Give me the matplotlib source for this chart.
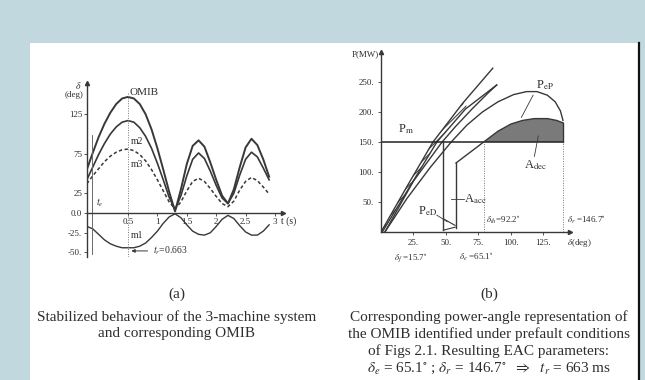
import matplotlib
matplotlib.use('Agg')
import matplotlib.pyplot as plt
from matplotlib.patches import Rectangle, Polygon
from matplotlib.lines import Line2D

plt.rcParams['font.family'] = ['Liberation Serif', 'DejaVu Serif']
plt.rcParams['mathtext.fontset'] = 'stix'
plt.rcParams['hatch.linewidth'] = 0.8

W, H = 645, 380
BG = '#c1d9de'
INK = '#383838'
TXT = '#2e2e2e'

# ---------------- data: panel (a) ----------------
time_s = [-0.2, -0.1, 0.0, 0.1, 0.2, 0.3, 0.4, 0.5, 0.6, 0.7, 0.8, 0.9, 1.0,
          1.1, 1.2, 1.3, 1.4, 1.5, 1.6, 1.7, 1.8, 1.9, 2.0, 2.1, 2.2, 2.3,
          2.4, 2.5, 2.6, 2.7, 2.8, 2.9]
delta_omib = [55, 76, 96, 113, 127, 138, 145, 147, 145, 138, 125, 106, 82, 55, 27, 2,
              30, 62, 85, 92, 84, 64, 42, 22, 12, 30, 58, 83, 94, 86, 68, 46]
delta_m2 = [42, 58, 74, 88, 100, 109, 115, 117, 115, 108, 97, 82, 63, 42, 20, 4,
            22, 47, 68, 76, 69, 53, 35, 19, 12, 25, 48, 68, 77, 71, 57, 42]
delta_m3 = [37, 47, 56, 65, 72, 77, 80, 81, 79, 74, 66, 55, 42, 28, 14, 5,
            14, 28, 40, 44, 40, 31, 21, 12, 8, 15, 29, 40, 45, 41, 33, 24]
delta_m1 = [-17, -20, -27, -34, -39, -42, -44, -44, -44, -42, -38, -31, -23, -13, -5, -1,
            -6, -15, -23, -27, -28, -25, -17, -8, -3, -7, -16, -24, -28, -28, -23, -15]
t_e = -0.11
t_mark = 0.5
a_yticks = [125, 75, 25, 0, -25, -50]
a_yticklabels = ['125', '75', '25', '0.0', '-25.', '-50.']
a_xticks = [0.5, 1, 1.5, 2, 2.5, 3]
a_xticklabels = ['0.5', '1', '1.5', '2', '2.5', '3']

# ---------------- data: panel (b) ----------------
lineA_d = [0, 20, 40, 63, 86]
lineA_p = [0, 76, 150, 215, 273]
loopB_left_d = [1, 22, 43, 65, 89]
loopB_left_p = [0, 75, 150, 205, 245]
loopB_right_d = [89, 83, 70, 57, 47, 25, 3]
loopB_right_p = [245, 233, 205, 175, 150, 85, 0]
arc_d = [3, 20, 38, 54, 66, 78, 90, 102, 112, 120, 128, 134, 138, 140]
arc_p = [0, 56, 108, 150, 178, 200, 217, 229, 234, 234, 228, 217, 202, 186]
fault_d = [48, 48]
fault_p = [152, 3]
peD_d = [48, 57]
peD_p = [22, 11]
peD_low_d = [48, 57]
peD_low_p = [3, 8]
clear_d = [57.7, 57.7]
clear_p = [6, 115]
peP_d = [57.7, 79, 90, 100, 109, 118, 128, 135, 140]
peP_p = [115, 150, 168, 180, 186, 189, 189, 186, 182]
Pm = 150
delta_th_pos = 79
delta_r_pos = 140
b_yticks = [250, 200, 150, 100, 50]
b_yticklabels = ['250.', '200.', '150.', '100.', '50.']
b_xticks = [25, 50, 75, 100, 125]
b_xticklabels = ['25.', '50.', '75.', '100.', '125.']


def ax_rect(x0, y0, x1, y1):
    return [x0 / W, 1 - y1 / H, (x1 - x0) / W, (y1 - y0) / H]


def fxy(x, y):
    return (x / W, 1 - y / H)


fig = plt.figure(figsize=(W / 100, H / 100), dpi=100)
fig.patch.set_facecolor(BG)
fig.add_artist(Rectangle(fxy(30, 380), (638 - 30) / W, (380 - 43) / H,
                         transform=fig.transFigure, facecolor='white',
                         edgecolor='none', zorder=0))
fig.add_artist(Line2D([639 / W, 639 / W], [0, 1 - 43 / H], transform=fig.transFigure,
                      color='#111111', lw=1.6))


def style_axes(ax, pad_x, pad_y):
    ax.set_facecolor('none')
    for s in ['top', 'right']:
        ax.spines[s].set_visible(False)
    for s in ['left', 'bottom']:
        ax.spines[s].set_color(INK)
        ax.spines[s].set_linewidth(1.0)
    ax.tick_params(axis='both', length=2, width=0.6, color=INK, labelcolor=TXT,
                   labelsize=6.5)
    ax.tick_params(axis='x', pad=pad_x)
    ax.tick_params(axis='y', pad=pad_y)
    ax.plot(0, 1, '^', transform=ax.transAxes, clip_on=False, ms=3, color=INK)


# ================= panel (a) =================
axA = fig.add_axes(ax_rect(87, 83, 283, 257))
axA.set_xlim(-0.197, 3.136)
axA.set_ylim(-55.7, 164.6)
style_axes(axA, 1.5, 1.5)
axA.spines['bottom'].set_position(('data', 0))
axA.plot(1, 0, '>', transform=axA.get_yaxis_transform(), clip_on=False, ms=3, color=INK)
axA.set_xticks(a_xticks)
axA.set_xticklabels(a_xticklabels)
axA.set_yticks(a_yticks)
axA.set_yticklabels(a_yticklabels)

axA.plot(time_s, delta_omib, color=INK, lw=1.4)
axA.plot(time_s, delta_m2, color=INK, lw=1.2)
axA.plot(time_s, delta_m3, color=INK, lw=1.1, ls=(0, (2.2, 1.6)))
axA.plot(time_s, delta_m1, color=INK, lw=1.0)
axA.plot([t_e, t_e], [99, -52], color='#6a6a6a', lw=0.7)
axA.plot([t_mark, t_mark], [152, -56], color='#777777', lw=0.7, ls=(0, (1, 1.5)))

axA.text(0.53, 153, 'OMIB', fontsize=8, color=TXT, ha='left', va='center')
axA.text(0.55, 91, 'm2', fontsize=7, color=TXT, ha='left', va='center')
axA.text(0.55, 61, 'm3', fontsize=7, color=TXT, ha='left', va='center')
axA.text(0.55, -28, 'm1', fontsize=7, color=TXT, ha='left', va='center')
axA.text(-0.04, 13, r'$t_e$', fontsize=7, color=TXT, ha='left', va='center')
axA.annotate('', xy=(0.51, -48), xytext=(0.88, -48),
             arrowprops=dict(arrowstyle='-|>', color=INK, lw=0.7,
                             mutation_scale=5))
axA.text(0.93, -48, r'$t_r$=0.663', fontsize=7, color=TXT, ha='left', va='center')
axA.text(3.1, -11, 't (s)', fontsize=7, color=TXT, ha='left', va='center',
         clip_on=False)
axA.text(-0.35, 161, r'$\delta$', fontsize=7, color=TXT, ha='center', va='center',
         clip_on=False)
axA.text(-0.25, 149, '(deg)', fontsize=6.5, color=TXT, ha='right', va='center',
         clip_on=False)

# ================= panel (b) =================
axB = fig.add_axes(ax_rect(381, 52, 570, 232))
axB.set_xlim(0, 145.4)
axB.set_ylim(0, 300)
style_axes(axB, 3, 3)
axB.plot(1, 0, '>', transform=axB.get_yaxis_transform(), clip_on=False, ms=3, color=INK)
axB.set_xticks(b_xticks)
axB.set_xticklabels(b_xticklabels)
axB.set_yticks(b_yticks)
axB.set_yticklabels(b_yticklabels)

# hatched band between line A and left side of loop B
band = list(zip(lineA_d, lineA_p))[:4] + [(66, 210)] + list(zip(loopB_left_d, loopB_left_p))[::-1][1:]
axB.add_patch(Polygon(band, closed=True, facecolor='none', edgecolor='#444444',
                      hatch='//////', lw=0))
axB.plot(lineA_d, lineA_p, color=INK, lw=1.0)
axB.plot(loopB_left_d, loopB_left_p, color=INK, lw=1.0)
axB.plot(loopB_right_d, loopB_right_p, color=INK, lw=1.0)
axB.plot(arc_d, arc_p, color=INK, lw=1.0)

# decelerating area
axB.fill_between(peP_d[1:], Pm, peP_p[1:], facecolor='#7a7a7a', edgecolor='none')
axB.plot([0, delta_r_pos], [Pm, Pm], color='#222222', lw=1.1)
axB.plot(peP_d, peP_p, color=INK, lw=1.0)
axB.plot([peP_d[-1], peP_d[-1]], [Pm, peP_p[-1]], color=INK, lw=1.0)
axB.plot(fault_d, fault_p, color=INK, lw=1.0)
axB.plot(peD_d, peD_p, color=INK, lw=0.8)
axB.plot(peD_low_d, peD_low_p, color=INK, lw=0.8)
axB.plot(clear_d, clear_p, color=INK, lw=1.0)
axB.plot([delta_th_pos, delta_th_pos], [0, Pm], color='#777777', lw=0.7,
         ls=(0, (1, 1.5)))
axB.plot([delta_r_pos, delta_r_pos], [0, Pm], color='#777777', lw=0.7,
         ls=(0, (1, 1.5)))

axB.text(13, 160, r'P$_\mathrm{m}$', fontsize=9, color=TXT, ha='left', va='bottom')
axB.text(119, 234, r'P$_\mathrm{eP}$', fontsize=9, color=TXT, ha='left', va='bottom')
axB.plot([117, 108], [228, 191], color=INK, lw=0.6)
axB.text(119, 112, r'A$_\mathrm{dec}$', fontsize=9, color=TXT, ha='center', va='center')
axB.plot([121, 118], [160, 126], color=INK, lw=0.6)
axB.text(64, 55, r'A$_\mathrm{acc}$', fontsize=9, color=TXT, ha='left', va='center')
axB.plot([54, 63.5], [55, 55], color=INK, lw=0.6)
axB.text(43, 35, r'P$_\mathrm{eD}$', fontsize=9, color=TXT, ha='right', va='center')
axB.plot([43, 51], [28, 17], color=INK, lw=0.6)
axB.text(80.5, 20, r'$\delta_{th}$=92.2$^{\circ}$', fontsize=6.5, color=TXT,
         ha='left', va='center')
axB.text(143, 20, r'$\delta_r$ =146.7$^{\circ}$', fontsize=6.5, color=TXT,
         ha='left', va='center', clip_on=False)
axB.text(23, -43, r'$\delta_f$ =15.7$^{\circ}$', fontsize=6.5, color=TXT,
         ha='center', va='center', clip_on=False)
axB.text(73, -43, r'$\delta_e$ =65.1$^{\circ}$', fontsize=6.5, color=TXT,
         ha='center', va='center', clip_on=False)
axB.text(143, -19, r'$\delta$(deg)', fontsize=6.5, color=TXT, ha='left',
         va='center', clip_on=False)
axB.text(-1.5, 296, 'P(MW)', fontsize=6.5, color=TXT, ha='right', va='center',
         clip_on=False)

# ================= captions =================
cap = dict(fontsize=11, color=TXT, ha='center', va='center')
fig.text(*fxy(177, 294), '(a)', **cap)
fig.text(*fxy(177, 317), 'Stabilized behaviour of the 3-machine system', **cap)
fig.text(*fxy(177, 334), 'and corresponding OMIB', **cap)
fig.text(*fxy(489, 294), '(b)', **cap)
fig.text(*fxy(489, 317), 'Corresponding power-angle representation of', **cap)
fig.text(*fxy(489, 334), 'the OMIB identified under prefault conditions', **cap)
fig.text(*fxy(489, 351), 'of Figs 2.1. Resulting EAC parameters:', **cap)
fig.text(*fxy(489, 368),
         r'$\delta_e$ = 65.1$^{\circ}$ ; $\delta_r$ = 146.7$^{\circ}$  $\Rightarrow$  $t_r$ = 663 ms',
         **cap)

fig.savefig('out.png', dpi=100, facecolor=fig.get_facecolor())
